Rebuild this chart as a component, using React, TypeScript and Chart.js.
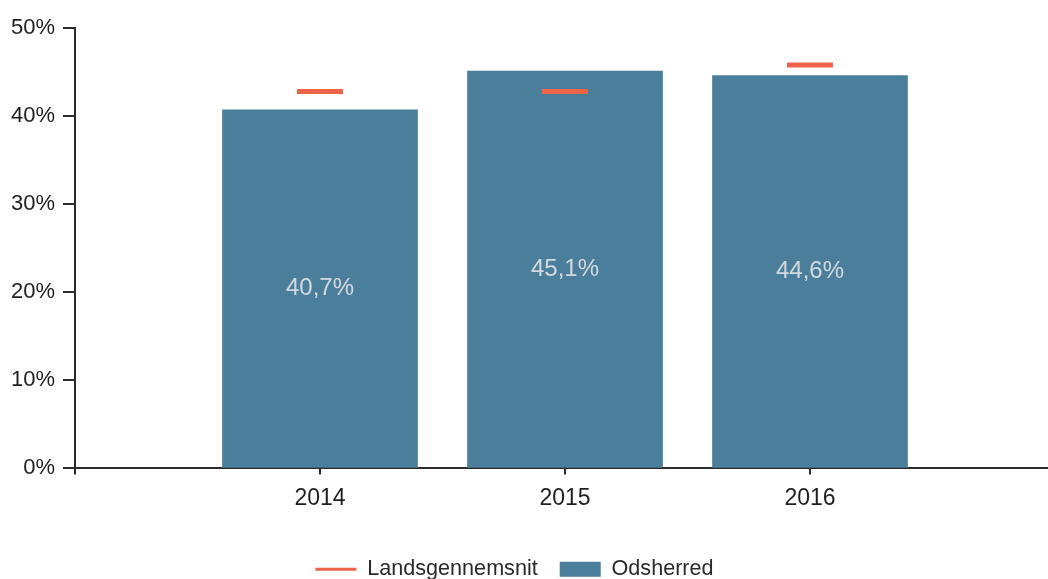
import React, { useEffect, useRef } from "react";
import { Chart, registerables } from "chart.js";

Chart.register(...registerables);

const years: string[] = ["2014", "2015", "2016"];
const odsherred: number[] = [40.7, 45.1, 44.6];
const landsgennemsnit: number[] = [42.8, 42.8, 45.8];
const seriesNames: string[] = ["Landsgennemsnit", "Odsherred"];
const yMin = 0;
const yMax = 50;
const yStep = 10;

const BAR_COLOR = "#4b7e9b";
const AVG_COLOR = "#ef6349";
const AXIS_COLOR = "#2b2b2b";
const TEXT_COLOR = "#1f1f1f";
const FONT = "'Liberation Sans', Arial, sans-serif";

const fmt = (v: number) => v.toFixed(1).replace(".", ",") + "%";

const barLabelPlugin = {
  id: "barLabels",
  afterDatasetsDraw(chart: any) {
    const ctx = chart.ctx;
    chart.data.datasets.forEach((ds: any, di: number) => {
      if (ds.type !== "bar") return;
      const meta = chart.getDatasetMeta(di);
      meta.data.forEach((el: any, i: number) => {
        const v = ds.data[i];
        if (v == null) return;
        const y = (el.y + el.base) / 2;
        ctx.save();
        ctx.font = `24px ${FONT}`;
        ctx.fillStyle = "#d3dadf";
        ctx.textAlign = "center";
        ctx.textBaseline = "middle";
        ctx.fillText(fmt(v), el.x, y);
        ctx.restore();
      });
    });
  },
};

const legendShiftPlugin = {
  id: "legendShift",
  afterLayout(chart: any) {
    const l = chart.legend;
    if (l) {
      l.left -= 27;
      l.right -= 27;
    }
  },
};

export default function App() {
  const ref = useRef<HTMLCanvasElement | null>(null);

  useEffect(() => {
    if (!ref.current) return;
    const labels = ["", ...years, ""];
    const chart = new Chart(ref.current, {
      data: {
        labels,
        datasets: [
          {
            type: "line" as const,
            label: seriesNames[0],
            data: [null, ...landsgennemsnit, null],
            showLine: false,
            borderColor: AVG_COLOR,
            backgroundColor: AVG_COLOR,
            borderWidth: 3,
            pointStyle: "line",
            pointRadius: 23,
            pointHoverRadius: 23,
            pointBorderWidth: 5,
            pointBorderColor: AVG_COLOR,
            order: 0,
          },
          {
            type: "bar" as const,
            label: seriesNames[1],
            data: [null, ...odsherred, null],
            backgroundColor: BAR_COLOR,
            borderWidth: 0,
            barThickness: 195,
            order: 1,
          },
        ],
      } as any,
      options: {
        animation: false,
        responsive: false,
        devicePixelRatio: 1,
        events: [],
        layout: { padding: { top: 24, left: 0, right: 0, bottom: 0 } },
        font: { family: FONT },
        plugins: {
          tooltip: { enabled: false },
          legend: {
            position: "bottom",
            labels: {
              usePointStyle: true,
              pointStyleWidth: 41,
              boxHeight: 15,
              padding: 22,
              color: "#2a2a2a",
              font: { family: FONT, size: 21.6 },
              generateLabels(chart: any) {
                const items = Chart.defaults.plugins.legend.labels.generateLabels(chart);
                return items.map((it: any) => {
                  if (it.datasetIndex === 0) {
                    return { ...it, pointStyle: "line", lineWidth: 3, strokeStyle: AVG_COLOR, fillStyle: AVG_COLOR };
                  }
                  return { ...it, pointStyle: "rect", lineWidth: 0, fillStyle: BAR_COLOR, strokeStyle: BAR_COLOR };
                });
              },
            },
          },
        },
        scales: {
          x: {
            type: "category",
            offset: false,
            grid: {
              display: true,
              offset: false,
              drawOnChartArea: false,
              drawTicks: true,
              tickLength: 6,
              color: AXIS_COLOR,
              lineWidth: 2,
            },
            border: { display: true, color: AXIS_COLOR, width: 2 },
            ticks: {
              color: TEXT_COLOR,
              font: { family: FONT, size: 23 },
              padding: 10,
              maxRotation: 0,
              autoSkip: false,
            },
            afterFit(scale: any) {
              scale.height = 68;
            },
          },
          y: {
            min: yMin,
            max: yMax,
            grid: {
              display: true,
              drawOnChartArea: false,
              drawTicks: true,
              tickLength: 12,
              color: AXIS_COLOR,
              lineWidth: 2,
            },
            border: { display: true, color: AXIS_COLOR, width: 2 },
            ticks: {
              stepSize: yStep,
              color: TEXT_COLOR,
              font: { family: FONT, size: 22 },
              padding: 8,
              callback: (v: any) => `${v}%`,
            },
            afterFit(scale: any) {
              scale.width = 75;
            },
          },
        },
      } as any,
      plugins: [barLabelPlugin, legendShiftPlugin],
    });
    return () => chart.destroy();
  }, []);

  return (
    <div
      style={{
        position: "absolute",
        left: 0,
        top: 0,
        width: 1048,
        height: 579,
        overflow: "hidden",
        background: "#ffffff",
      }}
    >
      <canvas ref={ref} width={1083} height={590} style={{ display: "block" }} />
    </div>
  );
}
